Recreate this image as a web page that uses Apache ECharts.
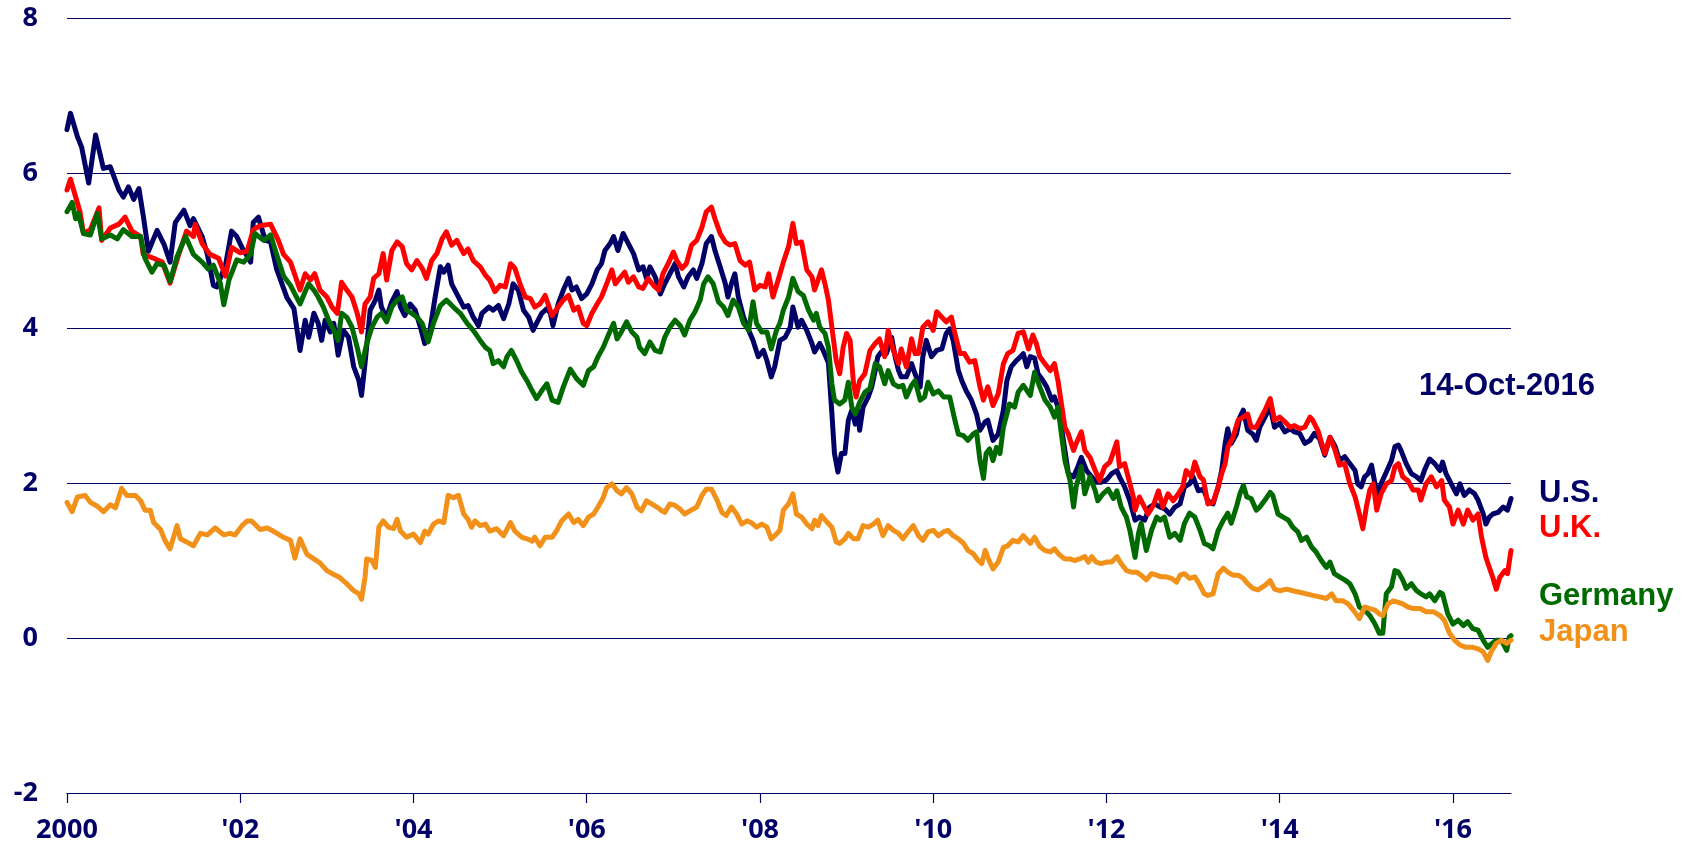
<!DOCTYPE html>
<html>
<head>
<meta charset="utf-8">
<script src="https://cdn.jsdelivr.net/npm/echarts/dist/echarts.min.js"></script>
<style>
html,body{margin:0;padding:0;background:#fff;}
#chart{width:1693px;height:850px;}
</style>
</head>
<body>
<div id="chart"></div>
<script>
// x values are years since 2000
const tickValues = [0, 2, 4, 6, 8, 10, 12, 14, 16];
const tickLabels = ['2000', "'02", "'04", "'06", "'08", "'10", "'12", "'14", "'16"];
const seriesNames = ['U.S.', 'U.K.', 'Germany', 'Japan'];
const dateLabel = '14-Oct-2016';

const usData = [[0.00,6.56],[0.04,6.77],[0.12,6.47],[0.17,6.33],[0.25,5.87],[0.33,6.49],[0.42,6.06],[0.50,6.08],[0.60,5.78],[0.65,5.69],[0.71,5.82],[0.77,5.66],[0.83,5.80],[0.88,5.45],[0.94,4.99],[1.04,5.26],[1.12,5.08],[1.19,4.85],[1.25,5.36],[1.35,5.52],[1.42,5.32],[1.46,5.41],[1.56,5.18],[1.62,4.95],[1.69,4.55],[1.73,4.53],[1.83,4.81],[1.90,5.25],[1.96,5.18],[2.02,5.04],[2.12,4.85],[2.15,5.36],[2.21,5.43],[2.29,5.13],[2.35,5.11],[2.42,4.76],[2.54,4.39],[2.62,4.25],
[2.69,3.71],[2.75,4.10],[2.79,3.88],[2.85,4.19],[2.90,4.06],[2.94,3.84],[2.98,4.10],[3.04,3.95],[3.08,4.06],[3.13,3.65],[3.19,3.97],[3.25,3.88],[3.31,3.50],[3.37,3.32],[3.40,3.13],[3.44,3.54],[3.50,4.23],[3.56,4.36],[3.60,4.49],[3.63,4.27],[3.69,4.14],[3.75,4.34],[3.81,4.47],[3.85,4.27],[3.90,4.16],[3.96,4.31],[4.02,4.23],[4.08,4.01],[4.13,3.80],[4.19,3.97],[4.25,4.40],[4.31,4.79],[4.35,4.72],[4.40,4.81],[4.44,4.57],[4.50,4.44],[4.58,4.27],[4.63,4.29],[4.69,4.14],[4.75,4.03],[4.79,4.19],[4.87,4.27],[4.92,4.23],[4.98,4.29],[5.04,4.12],[5.10,4.31],[5.15,4.57],[5.21,4.49],[5.27,4.23],[5.33,4.14],[5.38,3.97],[5.42,4.06],[5.48,4.19],[5.54,4.25],
[5.58,4.19],[5.61,4.03],[5.67,4.31],[5.73,4.49],[5.79,4.64],[5.83,4.49],[5.88,4.53],[5.94,4.38],[6.00,4.44],[6.06,4.57],[6.12,4.75],[6.17,4.83],[6.21,5.00],[6.27,5.09],[6.31,5.18],[6.36,5.00],[6.42,5.22],[6.48,5.09],[6.54,4.96],[6.60,4.75],[6.65,4.79],[6.69,4.64],[6.73,4.79],[6.79,4.66],[6.85,4.44],[6.90,4.57],[6.96,4.70],[7.02,4.83],[7.06,4.66],[7.12,4.53],[7.17,4.66],[7.23,4.75],[7.27,4.64],[7.33,4.83],[7.38,5.09],[7.44,5.18],[7.48,5.00],[7.54,4.79],[7.60,4.57],[7.63,4.40],[7.67,4.57],[7.71,4.70],[7.75,4.40],[7.81,4.14],[7.87,3.97],[7.92,3.84],[7.98,3.63],[8.04,3.71],[8.08,3.58],[8.13,3.37],[8.17,3.50],
[8.23,3.84],[8.29,3.88],[8.35,4.01],[8.38,4.27],[8.44,4.01],[8.48,4.10],[8.54,3.97],[8.60,3.80],[8.63,3.69],[8.69,3.80],[8.73,3.71],[8.79,3.55],[8.83,2.90],[8.86,2.38],[8.90,2.14],[8.94,2.38],[8.98,2.38],[9.02,2.81],[9.06,2.94],[9.10,2.76],[9.13,2.94],[9.15,2.68],[9.19,2.98],[9.25,3.11],[9.29,3.24],[9.33,3.45],[9.36,3.63],[9.40,3.69],[9.46,3.67],[9.52,3.88],[9.56,3.63],[9.60,3.45],[9.63,3.37],[9.69,3.37],[9.75,3.54],[9.79,3.41],[9.85,3.24],[9.88,3.63],[9.92,3.84],[9.98,3.63],[10.04,3.71],[10.10,3.73],[10.15,3.93],[10.19,3.99],[10.23,3.84],[10.29,3.45],[10.33,3.32],[10.38,3.19],[10.44,3.07],[10.50,2.89],[10.54,2.68],[10.60,2.79],[10.63,2.81],[10.69,2.55],[10.75,2.63],[10.81,2.94],[10.85,3.32],[10.90,3.50],[10.96,3.58],
[11.00,3.62],[11.04,3.67],[11.08,3.50],[11.12,3.63],[11.17,3.61],[11.21,3.41],[11.25,3.35],[11.31,3.24],[11.37,3.07],[11.40,3.11],[11.44,2.98],[11.48,2.72],[11.52,2.42],[11.56,2.12],[11.62,2.08],[11.67,2.21],[11.71,2.33],[11.77,2.16],[11.83,2.08],[11.88,2.01],[11.94,2.01],[12.00,2.04],[12.06,2.12],[12.12,2.16],[12.15,2.08],[12.21,1.95],[12.27,1.77],[12.33,1.52],[12.38,1.56],[12.44,1.52],[12.50,1.69],[12.56,1.73],[12.62,1.69],[12.67,1.67],[12.73,1.60],[12.79,1.69],[12.85,1.73],[12.90,1.95],[12.96,1.99],[13.00,2.08],[13.06,1.90],[13.12,1.92],[13.17,1.77],[13.23,1.73],[13.29,1.95],[13.33,2.16],[13.37,2.51],[13.40,2.70],[13.44,2.51],[13.50,2.63],[13.54,2.85],[13.58,2.94],[13.63,2.68],[13.69,2.63],[13.73,2.55],
[13.77,2.72],[13.83,2.85],[13.89,2.98],[13.94,2.72],[14.00,2.77],[14.06,2.66],[14.12,2.70],[14.17,2.66],[14.23,2.64],[14.29,2.51],[14.35,2.55],[14.40,2.64],[14.46,2.57],[14.52,2.36],[14.58,2.59],[14.64,2.47],[14.69,2.29],[14.75,2.34],[14.81,2.25],[14.87,2.16],[14.90,1.99],[14.94,1.95],[14.98,2.08],[15.02,2.12],[15.06,2.23],[15.10,1.99],[15.13,1.86],[15.17,1.99],[15.23,2.14],[15.29,2.29],[15.33,2.47],[15.37,2.49],[15.40,2.42],[15.46,2.25],[15.52,2.12],[15.58,2.08],[15.63,2.03],[15.67,2.16],[15.73,2.31],[15.79,2.25],[15.85,2.16],[15.88,2.27],[15.92,2.12],[15.98,1.99],[16.04,1.86],[16.08,1.99],[16.13,1.84],[16.19,1.91],[16.25,1.86],[16.29,1.78],[16.35,1.60],[16.38,1.47],[16.42,1.56],[16.46,1.60],[16.52,1.62],[16.58,1.69],[16.63,1.65],[16.67,1.80]];

const ukData = [[0.00,5.78],[0.04,5.92],[0.10,5.69],[0.15,5.50],[0.19,5.22],[0.27,5.27],[0.37,5.55],[0.40,5.13],[0.50,5.29],[0.60,5.34],[0.67,5.43],[0.75,5.25],[0.85,5.18],[0.88,4.95],[1.00,4.90],[1.10,4.85],[1.19,4.58],[1.29,4.95],[1.38,5.25],[1.46,5.18],[1.48,5.34],[1.56,5.09],[1.65,4.95],[1.75,4.90],[1.83,4.67],[1.90,5.04],[2.00,4.97],[2.08,4.99],[2.15,5.27],[2.23,5.32],[2.35,5.34],[2.44,5.13],[2.50,4.95],[2.58,4.85],
[2.69,4.49],[2.75,4.70],[2.81,4.62],[2.86,4.70],[2.92,4.49],[3.00,4.40],[3.06,4.27],[3.12,4.19],[3.17,4.59],[3.23,4.49],[3.29,4.40],[3.35,4.19],[3.40,3.95],[3.44,4.31],[3.50,4.40],[3.54,4.64],[3.60,4.70],[3.65,4.96],[3.69,4.62],[3.75,5.00],[3.81,5.11],[3.87,5.05],[3.92,4.83],[3.98,4.75],[4.04,4.87],[4.10,4.77],[4.15,4.64],[4.21,4.87],[4.27,4.96],[4.33,5.15],[4.38,5.24],[4.44,5.07],[4.50,5.13],[4.58,4.96],[4.63,5.02],[4.69,4.87],[4.77,4.79],[4.83,4.68],[4.88,4.62],[4.94,4.47],[5.00,4.55],[5.06,4.53],[5.12,4.83],[5.17,4.77],[5.23,4.57],[5.29,4.40],[5.35,4.38],[5.40,4.27],[5.46,4.31],[5.52,4.42],
[5.60,4.16],[5.67,4.27],[5.73,4.36],[5.79,4.42],[5.85,4.23],[5.90,4.27],[5.96,4.06],[6.00,4.03],[6.06,4.19],[6.12,4.31],[6.17,4.40],[6.23,4.57],[6.29,4.75],[6.33,4.57],[6.38,4.64],[6.44,4.72],[6.48,4.59],[6.54,4.66],[6.60,4.53],[6.65,4.51],[6.71,4.64],[6.77,4.55],[6.83,4.49],[6.88,4.70],[6.94,4.83],[7.00,4.98],[7.04,4.87],[7.10,4.77],[7.15,4.83],[7.21,5.07],[7.27,5.13],[7.33,5.30],[7.38,5.50],[7.44,5.56],[7.48,5.41],[7.54,5.22],[7.60,5.11],[7.65,5.07],[7.71,5.09],[7.77,4.87],[7.83,4.81],[7.88,4.85],[7.94,4.49],[8.00,4.55],[8.06,4.53],[8.10,4.70],[8.15,4.40],[8.21,4.62],
[8.27,4.85],[8.33,5.05],[8.38,5.35],[8.42,5.09],[8.48,5.11],[8.54,4.75],[8.60,4.66],[8.63,4.49],[8.67,4.62],[8.71,4.75],[8.75,4.57],[8.79,4.36],[8.83,4.01],[8.88,3.58],[8.92,3.41],[8.96,3.75],[9.00,3.93],[9.04,3.84],[9.08,3.28],[9.11,3.11],[9.15,3.32],[9.21,3.41],[9.27,3.71],[9.33,3.80],[9.38,3.86],[9.44,3.63],[9.48,3.97],[9.54,3.71],[9.60,3.54],[9.63,3.73],[9.69,3.50],[9.75,3.86],[9.79,3.67],[9.83,3.67],[9.88,4.01],[9.94,4.08],[10.00,3.97],[10.04,4.21],[10.10,4.14],[10.15,4.08],[10.21,4.14],[10.25,3.93],[10.31,3.67],[10.36,3.67],[10.42,3.56],[10.48,3.58],[10.54,3.24],[10.58,3.07],[10.63,3.24],[10.69,3.00],[10.75,3.15],[10.81,3.54],[10.86,3.67],[10.92,3.71],[10.98,3.93],
[11.04,3.95],[11.10,3.73],[11.15,3.91],[11.19,3.80],[11.23,3.63],[11.29,3.54],[11.35,3.45],[11.40,3.54],[11.44,3.32],[11.48,3.02],[11.52,2.72],[11.56,2.63],[11.62,2.42],[11.65,2.51],[11.71,2.66],[11.75,2.42],[11.81,2.33],[11.87,2.16],[11.92,2.03],[11.98,2.21],[12.04,2.27],[12.12,2.53],[12.15,2.21],[12.21,2.25],[12.25,2.08],[12.31,1.82],[12.33,1.65],[12.38,1.82],[12.42,1.73],[12.48,1.60],[12.54,1.71],[12.60,1.90],[12.65,1.69],[12.71,1.86],[12.77,1.77],[12.83,1.86],[12.88,1.95],[12.92,2.16],[12.98,2.08],[13.02,2.27],[13.08,2.08],[13.12,2.04],[13.17,1.73],[13.23,1.75],[13.29,1.95],[13.33,2.12],[13.37,2.25],[13.40,2.46],[13.46,2.59],[13.52,2.81],[13.58,2.85],[13.63,2.89],[13.67,2.72],[13.73,2.72],
[13.77,2.81],[13.83,2.94],[13.89,3.09],[13.94,2.81],[14.00,2.85],[14.06,2.79],[14.12,2.72],[14.17,2.74],[14.23,2.70],[14.29,2.72],[14.35,2.85],[14.38,2.81],[14.44,2.68],[14.52,2.38],[14.58,2.59],[14.64,2.42],[14.69,2.23],[14.75,2.25],[14.81,1.99],[14.87,1.82],[14.92,1.60],[14.96,1.41],[15.00,1.69],[15.04,1.91],[15.08,1.99],[15.12,1.65],[15.17,1.86],[15.23,1.99],[15.29,2.03],[15.33,2.21],[15.37,2.25],[15.42,2.08],[15.48,2.03],[15.54,1.91],[15.60,1.91],[15.63,1.78],[15.69,1.99],[15.75,2.08],[15.81,1.95],[15.87,2.03],[15.90,1.78],[15.96,1.69],[16.00,1.47],[16.06,1.65],[16.12,1.47],[16.17,1.65],[16.23,1.52],[16.29,1.60],[16.33,1.30],[16.38,1.04],[16.42,0.91],[16.46,0.78],[16.50,0.63],[16.54,0.78],[16.60,0.87],[16.63,0.83],[16.67,1.13]];

const deData = [[0.00,5.50],[0.06,5.62],[0.10,5.41],[0.13,5.48],[0.19,5.22],[0.27,5.20],[0.35,5.48],[0.40,5.15],[0.50,5.20],[0.58,5.15],[0.65,5.27],[0.75,5.18],[0.85,5.18],[0.90,4.90],[0.98,4.72],[1.04,4.83],[1.12,4.81],[1.19,4.60],[1.27,4.92],[1.37,5.18],[1.46,4.95],[1.56,4.85],[1.63,4.76],[1.69,4.81],[1.77,4.58],[1.81,4.30],[1.87,4.62],[1.96,4.88],[2.04,4.85],[2.12,4.95],[2.17,5.22],[2.27,5.13],[2.35,5.20],[2.42,4.95],[2.50,4.67],[2.58,4.55],
[2.69,4.31],[2.75,4.47],[2.79,4.57],[2.85,4.49],[2.90,4.40],[2.96,4.27],[3.02,4.10],[3.08,3.97],[3.13,3.84],[3.17,4.19],[3.23,4.14],[3.29,4.01],[3.35,3.75],[3.40,3.50],[3.46,3.80],[3.52,4.01],[3.58,4.14],[3.63,4.19],[3.69,4.08],[3.75,4.27],[3.81,4.36],[3.87,4.40],[3.92,4.23],[3.98,4.19],[4.04,4.14],[4.10,4.06],[4.17,3.82],[4.23,4.06],[4.31,4.29],[4.38,4.36],[4.46,4.27],[4.54,4.19],[4.62,4.06],[4.69,3.97],[4.77,3.84],[4.83,3.75],[4.88,3.71],[4.92,3.54],[4.98,3.58],[5.04,3.50],[5.08,3.63],[5.13,3.71],[5.19,3.58],[5.25,3.43],[5.31,3.32],[5.37,3.19],[5.42,3.09],[5.48,3.19],[5.54,3.28],
[5.60,3.07],[5.67,3.04],[5.73,3.24],[5.81,3.47],[5.88,3.35],[5.96,3.26],[6.02,3.45],[6.08,3.50],[6.13,3.63],[6.19,3.75],[6.25,3.91],[6.31,4.06],[6.35,3.86],[6.40,3.95],[6.46,4.08],[6.52,3.95],[6.58,3.88],[6.61,3.75],[6.67,3.67],[6.73,3.82],[6.79,3.71],[6.85,3.69],[6.90,3.88],[6.96,4.01],[7.02,4.10],[7.08,4.03],[7.13,3.91],[7.19,4.10],[7.25,4.21],[7.31,4.36],[7.35,4.57],[7.40,4.66],[7.46,4.57],[7.52,4.34],[7.58,4.27],[7.63,4.16],[7.69,4.36],[7.75,4.27],[7.81,4.06],[7.87,3.97],[7.92,4.34],[7.96,4.06],[8.02,3.95],[8.08,3.95],[8.13,3.73],[8.19,3.97],
[8.23,4.06],[8.27,4.23],[8.33,4.40],[8.38,4.64],[8.44,4.47],[8.50,4.42],[8.56,4.23],[8.62,4.10],[8.65,4.19],[8.69,4.01],[8.75,3.93],[8.79,3.75],[8.83,3.28],[8.86,3.07],[8.92,3.02],[8.98,3.07],[9.02,3.30],[9.06,2.98],[9.10,2.89],[9.15,3.04],[9.21,3.17],[9.27,3.22],[9.33,3.54],[9.38,3.50],[9.44,3.28],[9.48,3.45],[9.54,3.28],[9.60,3.24],[9.65,3.26],[9.69,3.11],[9.75,3.26],[9.79,3.32],[9.85,3.07],[9.90,3.11],[9.94,3.30],[10.00,3.15],[10.06,3.19],[10.12,3.11],[10.19,3.11],[10.25,2.81],[10.29,2.63],[10.35,2.61],[10.40,2.55],[10.46,2.63],[10.50,2.66],[10.54,2.29],[10.58,2.06],[10.61,2.38],[10.65,2.44],[10.69,2.29],[10.73,2.46],[10.77,2.38],[10.81,2.72],[10.85,2.89],[10.88,3.02],[10.94,2.98],[10.98,3.17],[11.04,3.26],
[11.12,3.13],[11.17,3.43],[11.23,3.24],[11.29,3.07],[11.35,2.98],[11.40,2.85],[11.44,2.98],[11.48,2.63],[11.52,2.29],[11.58,2.03],[11.62,1.69],[11.65,1.95],[11.71,2.21],[11.75,1.86],[11.81,2.08],[11.87,1.90],[11.90,1.77],[11.96,1.86],[12.02,1.92],[12.08,1.80],[12.12,1.90],[12.17,1.69],[12.23,1.56],[12.27,1.39],[12.33,1.04],[12.37,1.35],[12.40,1.48],[12.46,1.13],[12.52,1.39],[12.58,1.56],[12.62,1.52],[12.67,1.56],[12.73,1.30],[12.79,1.35],[12.85,1.26],[12.90,1.48],[12.96,1.61],[13.02,1.56],[13.08,1.39],[13.13,1.22],[13.19,1.19],[13.23,1.15],[13.29,1.39],[13.35,1.52],[13.40,1.61],[13.44,1.48],[13.50,1.69],[13.54,1.86],[13.58,1.97],[13.62,1.82],[13.67,1.80],[13.73,1.65],
[13.77,1.69],[13.83,1.78],[13.89,1.88],[13.92,1.84],[13.98,1.60],[14.04,1.56],[14.10,1.52],[14.15,1.43],[14.21,1.37],[14.25,1.26],[14.31,1.30],[14.37,1.17],[14.42,1.11],[14.48,1.00],[14.54,0.91],[14.58,0.98],[14.63,0.83],[14.69,0.79],[14.75,0.75],[14.81,0.70],[14.87,0.57],[14.92,0.40],[14.98,0.36],[15.04,0.29],[15.10,0.18],[15.15,0.06],[15.19,0.06],[15.23,0.57],[15.29,0.66],[15.33,0.87],[15.37,0.85],[15.42,0.75],[15.46,0.64],[15.52,0.70],[15.58,0.61],[15.63,0.57],[15.69,0.53],[15.73,0.57],[15.79,0.48],[15.85,0.59],[15.88,0.57],[15.94,0.31],[16.00,0.18],[16.06,0.23],[16.12,0.16],[16.17,0.21],[16.23,0.12],[16.29,0.10],[16.35,-0.03],[16.40,-0.12],[16.44,-0.08],[16.50,-0.03],[16.56,-0.03],[16.62,-0.16],[16.65,0.01],[16.67,0.03]];

const jpData = [[0.00,1.75],[0.06,1.63],[0.12,1.82],[0.21,1.84],[0.27,1.75],[0.35,1.70],[0.42,1.63],[0.50,1.72],[0.56,1.68],[0.63,1.93],[0.69,1.84],[0.79,1.84],[0.85,1.77],[0.90,1.65],[0.96,1.65],[1.00,1.49],[1.08,1.40],[1.13,1.26],[1.19,1.15],[1.27,1.45],[1.31,1.28],[1.38,1.24],[1.46,1.19],[1.54,1.35],[1.62,1.33],[1.71,1.42],[1.81,1.33],[1.88,1.35],[1.94,1.33],[2.02,1.45],[2.08,1.51],[2.13,1.51],[2.23,1.40],[2.31,1.42],[2.38,1.38],[2.48,1.31],[2.58,1.26],[2.63,1.03],
[2.69,1.28],[2.77,1.08],[2.85,1.02],[2.92,0.97],[3.00,0.87],[3.08,0.82],[3.15,0.78],[3.23,0.70],[3.31,0.61],[3.37,0.57],[3.40,0.50],[3.44,0.78],[3.46,1.02],[3.52,1.00],[3.56,0.91],[3.60,1.43],[3.65,1.51],[3.71,1.43],[3.77,1.41],[3.81,1.53],[3.85,1.38],[3.92,1.30],[4.00,1.34],[4.08,1.23],[4.13,1.38],[4.17,1.34],[4.23,1.47],[4.29,1.51],[4.35,1.49],[4.40,1.84],[4.46,1.81],[4.52,1.84],[4.58,1.60],[4.63,1.53],[4.67,1.43],[4.71,1.51],[4.77,1.45],[4.83,1.47],[4.88,1.38],[4.96,1.41],[5.04,1.32],[5.12,1.49],[5.17,1.38],[5.25,1.30],[5.31,1.28],[5.37,1.25],[5.40,1.30],[5.46,1.19],[5.52,1.30],
[5.60,1.30],[5.65,1.38],[5.71,1.51],[5.79,1.60],[5.85,1.49],[5.90,1.53],[5.96,1.45],[6.02,1.56],[6.08,1.60],[6.13,1.69],[6.19,1.81],[6.23,1.94],[6.29,1.99],[6.35,1.90],[6.40,1.86],[6.46,1.94],[6.52,1.86],[6.58,1.69],[6.63,1.64],[6.69,1.77],[6.75,1.73],[6.81,1.69],[6.87,1.64],[6.90,1.62],[6.96,1.73],[7.02,1.71],[7.08,1.66],[7.13,1.60],[7.19,1.64],[7.27,1.69],[7.33,1.84],[7.38,1.92],[7.44,1.92],[7.50,1.79],[7.56,1.62],[7.61,1.58],[7.67,1.69],[7.73,1.60],[7.79,1.47],[7.85,1.51],[7.90,1.49],[7.96,1.43],[8.02,1.47],[8.08,1.43],[8.13,1.28],[8.17,1.32],
[8.23,1.39],[8.27,1.65],[8.33,1.73],[8.38,1.86],[8.42,1.60],[8.48,1.56],[8.54,1.47],[8.60,1.41],[8.63,1.52],[8.67,1.45],[8.71,1.58],[8.77,1.50],[8.83,1.43],[8.88,1.24],[8.92,1.22],[8.98,1.28],[9.02,1.35],[9.08,1.28],[9.13,1.28],[9.19,1.45],[9.25,1.43],[9.31,1.47],[9.36,1.52],[9.42,1.32],[9.48,1.45],[9.54,1.39],[9.60,1.35],[9.65,1.28],[9.71,1.37],[9.77,1.45],[9.83,1.32],[9.88,1.26],[9.94,1.37],[10.00,1.39],[10.06,1.32],[10.12,1.37],[10.17,1.39],[10.23,1.32],[10.29,1.28],[10.35,1.22],[10.40,1.13],[10.46,1.09],[10.52,1.00],[10.56,0.96],[10.60,1.13],[10.63,1.04],[10.69,0.89],[10.75,0.98],[10.81,1.17],[10.86,1.19],[10.92,1.26],[10.98,1.24],[11.04,1.32],
[11.12,1.22],[11.17,1.30],[11.23,1.18],[11.29,1.13],[11.35,1.11],[11.40,1.15],[11.46,1.07],[11.52,1.02],[11.58,1.02],[11.63,1.00],[11.69,1.02],[11.75,1.05],[11.79,0.98],[11.83,1.05],[11.88,0.98],[11.94,0.96],[12.00,0.98],[12.06,0.98],[12.12,1.05],[12.17,0.96],[12.23,0.87],[12.29,0.85],[12.35,0.85],[12.40,0.81],[12.46,0.75],[12.52,0.83],[12.58,0.81],[12.63,0.79],[12.69,0.79],[12.75,0.77],[12.81,0.72],[12.85,0.81],[12.90,0.83],[12.96,0.77],[13.02,0.79],[13.08,0.68],[13.13,0.57],[13.17,0.55],[13.23,0.57],[13.29,0.83],[13.35,0.90],[13.40,0.85],[13.46,0.81],[13.52,0.81],[13.58,0.77],[13.63,0.70],[13.69,0.64],[13.75,0.62],
[13.83,0.68],[13.89,0.74],[13.94,0.63],[14.00,0.61],[14.08,0.63],[14.15,0.61],[14.23,0.59],[14.31,0.57],[14.38,0.55],[14.46,0.53],[14.54,0.51],[14.60,0.57],[14.65,0.48],[14.73,0.48],[14.79,0.44],[14.85,0.36],[14.92,0.25],[14.98,0.40],[15.04,0.38],[15.10,0.36],[15.15,0.31],[15.19,0.29],[15.25,0.44],[15.31,0.48],[15.37,0.46],[15.42,0.44],[15.48,0.40],[15.54,0.38],[15.62,0.38],[15.69,0.34],[15.77,0.34],[15.85,0.29],[15.90,0.23],[15.96,0.06],[16.02,-0.03],[16.08,-0.09],[16.15,-0.12],[16.23,-0.12],[16.29,-0.14],[16.35,-0.18],[16.40,-0.29],[16.44,-0.18],[16.50,-0.07],[16.56,-0.03],[16.62,-0.07],[16.67,-0.03]];

const NAVY = '#000066';
const colors = [NAVY, '#ff0000', '#006a00', '#f29119'];
const allData = [usData, ukData, deData, jpData];

const chart = echarts.init(document.getElementById('chart'), null, {renderer: 'canvas'});
const axisFont = {fontFamily: 'Open Sans', fontWeight: 'bold', fontSize: 27, color: NAVY};
const labelFont = 'bold 31px "Liberation Sans", Arial, sans-serif';

chart.setOption({
  animation: false,
  backgroundColor: '#ffffff',
  grid: {left: 67, right: 182, top: 18, bottom: 57, containLabel: false},
  xAxis: {
    type: 'value', min: 0, max: 16.67, interval: 2,
    axisLine: {show: true, onZero: false, lineStyle: {color: NAVY, width: 1.2}},
    axisTick: {show: true, length: 10, customValues: tickValues, lineStyle: {color: NAVY, width: 1.2}},
    axisLabel: Object.assign({margin: 24, customValues: tickValues,
      formatter: v => tickLabels[tickValues.indexOf(Math.round(v))] || ''}, axisFont),
    splitLine: {show: false}
  },
  yAxis: {
    type: 'value', min: -2, max: 8, interval: 2,
    axisLine: {show: false}, axisTick: {show: false},
    axisLabel: Object.assign({margin: 29}, axisFont),
    splitLine: {show: true, lineStyle: {color: NAVY, width: 1}}
  },
  series: seriesNames.map((name, i) => ({
    name, type: 'line', data: allData[i], showSymbol: false, symbol: 'none',
    lineStyle: {color: colors[i], width: 5, join: 'round', cap: 'round'},
    z: 2 + i
  })),
  graphic: [
    {type: 'text', x: 1507, y: 386, style: {text: dateLabel, font: labelFont, fill: NAVY, align: 'center', verticalAlign: 'middle'}},
    {type: 'text', x: 1539, y: 493, style: {text: seriesNames[0], font: labelFont, fill: colors[0], align: 'left', verticalAlign: 'middle'}},
    {type: 'text', x: 1539, y: 528, style: {text: seriesNames[1], font: labelFont, fill: colors[1], align: 'left', verticalAlign: 'middle'}},
    {type: 'text', x: 1539, y: 596, style: {text: seriesNames[2], font: labelFont, fill: colors[2], align: 'left', verticalAlign: 'middle'}},
    {type: 'text', x: 1539, y: 632, style: {text: seriesNames[3], font: labelFont, fill: colors[3], align: 'left', verticalAlign: 'middle'}}
  ]
});
</script>
</body>
</html>
